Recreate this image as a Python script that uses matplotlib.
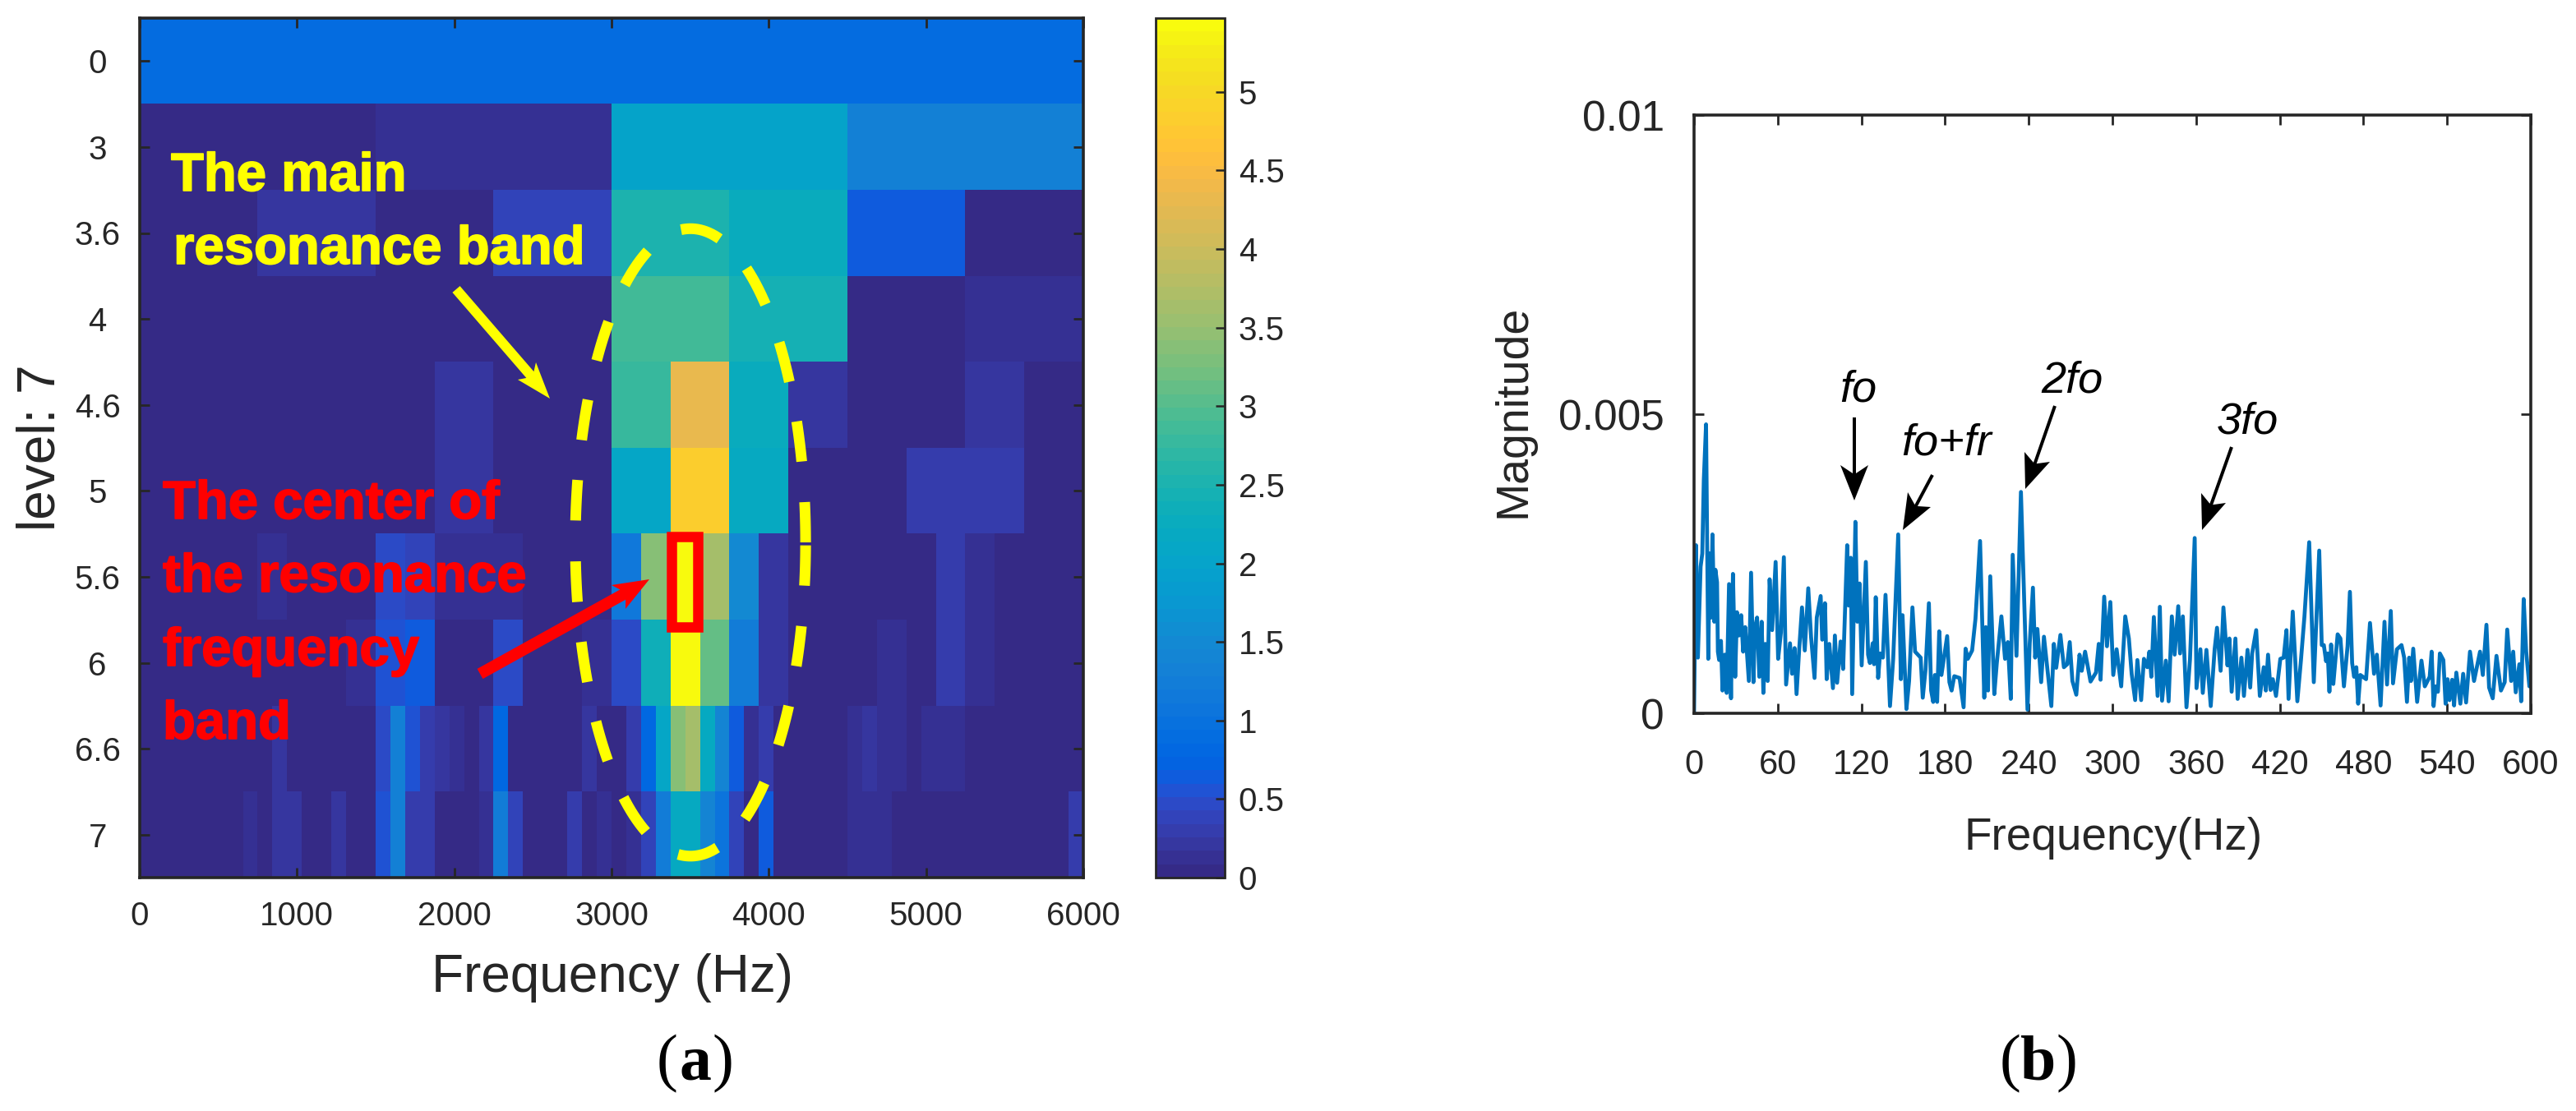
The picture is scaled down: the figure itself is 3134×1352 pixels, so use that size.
import numpy as np
import matplotlib
matplotlib.use("Agg")
import matplotlib.pyplot as plt
import matplotlib.patheffects as pe
from matplotlib.colors import ListedColormap
from matplotlib.patches import Rectangle, Polygon

W, H = 3134, 1352
DARK = "#262626"
plt.rcParams["font.family"] = ["Liberation Sans", "DejaVu Sans"]

# kurtogram, panel (a): one list per level, cells spread evenly over 0-6000 Hz
level_labels = ["0", "3", "3.6", "4", "4.6", "5", "5.6", "6", "6.6", "7"]
row_0 = [0.87]
row_3 = [0.05, 0.17, 2.05, 1.35]
row_3_6 = [0.05, 0.2, 0.05, 0.38, 2.5, 2.3, 0.62, 0.02]
row_4 = [0.03, 0.03, 0.03, 0.03, 2.9, 2.45, 0.02, 0.15]
row_4_6 = [0.03, 0.03, 0.03, 0.03, 0.03, 0.18, 0.03, 0.03,
           2.75, 4.35, 2.3, 0.25, 0.03, 0.03, 0.18, 0.02]
row_5 = [0.03, 0.03, 0.03, 0.03, 0.03, 0.18, 0.03, 0.03,
         2.1, 4.85, 2.15, 0.02, 0.02, 0.27, 0.27, 0.02]
row_5_6 = [0.03, 0.03, 0.03, 0.03, 0.12, 0.03, 0.03, 0.03,
           0.45, 0.42, 0.15, 0.15, 0.15, 0.03, 0.03, 0.03,
           1.15, 3.4, 5.4, 3.6, 1.5, 0.25, 0.03, 0.03,
           0.03, 0.03, 0.03, 0.32, 0.17, 0.03, 0.03, 0.03]
row_6 = [0.03, 0.03, 0.03, 0.03, 0.03, 0.03, 0.03, 0.12,
         0.55, 0.65, 0.05, 0.0, 0.5, 0.03, 0.03, 0.1,
         0.45, 2.35, 5.4, 3.1, 1.25, 0.25, 0.03, 0.03,
         0.03, 0.13, 0.02, 0.3, 0.12, 0.03, 0.03, 0.03]
row_6_6 = [0.03, 0.03, 0.03, 0.03, 0.03, 0.03, 0.03, 0.03,
           0.03, 0.25, 0.03, 0.03, 0.03, 0.03, 0.03, 0.03,
           0.5, 1.35, 0.55, 0.28, 0.22, 0.1, 0.03, 0.25,
           0.85, 0.03, 0.03, 0.03, 0.03, 0.03, 0.22, 0.06,
           0.0, 0.3, 0.85, 2.1, 3.4, 3.65, 2.2, 1.4,
           0.65, 0.15, 0.3, 0.02, 0.02, 0.02, 0.02, 0.02,
           0.13, 0.2, 0.13, 0.13, 0.02, 0.1, 0.1, 0.1,
           0.02, 0.02, 0.02, 0.02, 0.02, 0.02, 0.02, 0.02]
row_7 = [0.03, 0.03, 0.03, 0.03, 0.03, 0.03, 0.03, 0.1,
         0.03, 0.25, 0.25, 0.03, 0.03, 0.18, 0.03, 0.03,
         0.55, 1.3, 0.3, 0.28, 0.08, 0.08, 0.04, 0.15,
         1.2, 0.35, 0.03, 0.03, 0.03, 0.33, 0.05, 0.1,
         0.02, 0.12, 0.38, 1.25, 2.15, 2.15, 1.45, 1.05,
         0.35, 0.03, 0.6, 0.02, 0.02, 0.02, 0.02, 0.02,
         0.17, 0.1, 0.1, 0.02, 0.02, 0.08, 0.02, 0.08,
         0.02, 0.02, 0.02, 0.02, 0.02, 0.02, 0.02, 0.3]
kurt_rows = [row_0, row_3, row_3_6, row_4, row_4_6, row_5, row_5_6, row_6, row_6_6, row_7]
kurt_max = 5.47
cbar_ticks = [0, 0.5, 1, 1.5, 2, 2.5, 3, 3.5, 4, 4.5, 5]
cbar_labels = ["0", "0.5", "1", "1.5", "2", "2.5", "3", "3.5", "4", "4.5", "5"]
freq_ticks_a = [0, 1000, 2000, 3000, 4000, 5000, 6000]

spec_freq = [
    0, 1.4, 2.75, 4.7, 5.9, 7, 8.6, 10.2, 11.2, 12.2, 13.2, 14.5, 15.3, 16.5, 17.1, 18, 19.3, 20.4,
    22, 23.4, 25.1, 26.5, 27.9, 29.5, 30.8, 32.2, 33.8, 35.2, 36.7, 39.3, 40.9, 42.6, 43.6, 45.2,
    46.8, 48.5, 49.7, 51.1, 52.8, 54.2, 56, 58.5, 60.3, 62.3, 64.4, 66, 68.8, 70.3, 72.1, 73.5,
    75.4, 77.4, 79.4, 81.9, 83.9, 86.4, 88, 90.8, 91.9, 93.9, 95.1, 97, 99.6, 101, 102.6, 105.1,
    106.9, 109.8, 110.9, 112.4, 113.4, 115.7, 117.1, 118.7, 120.2, 123.2, 124.8, 126.1, 128.1,
    129.1, 130.3, 132, 133.4, 135.4, 137.3, 140.5, 142.8, 146.4, 148.3, 149.5, 152.3, 154.2,
    156.6, 158.5, 162.5, 164, 166, 168.4, 170, 171.5, 172.7, 174.3, 175.8, 177.4, 181.5, 183.1,
    184.7, 186.6, 190.4, 193.3, 194.7, 196.3, 199.4, 201.8, 205.1, 208.1, 209.2, 210.8, 212.4,
    215.3, 217.1, 220.4, 223, 225, 227.1, 228.5, 231.2, 234.4, 237.1, 239.1, 240.7, 243, 244.6,
    246.2, 248.9, 250.9, 256.2, 258, 259.7, 262.7, 265.2, 267.6, 269.4, 271.3, 274.1, 276.4, 278,
    280.4, 284.3, 288.2, 290.2, 291.5, 294.1, 296.1, 298.5, 300.6, 303, 306.3, 309.2, 311.8,
    313.8, 316.3, 317.9, 320.6, 322.6, 325, 326.5, 327.9, 329.7, 332.4, 334, 335.6, 338.3, 340.3,
    342.6, 344.6, 347.2, 348.5, 350.5, 353.1, 355.6, 359, 360.3, 363.1, 364.8, 367.4, 370.5,
    373.3, 375, 377.6, 379.6, 382.5, 383.9, 385.5, 388.2, 389.8, 392.5, 394.3, 396.9, 398.8,
    400.2, 403.1, 405.7, 408.5, 410, 411.6, 413.4, 415, 417.3, 420.4, 422.8, 424.8, 426.3, 429.3,
    432.6, 435.2, 437.7, 441.1, 444.4, 448.3, 450.1, 451.6, 453.2, 454.4, 455.6, 456.8, 458.4,
    461.5, 463.5, 466, 468.6, 470.3, 471.9, 473.3, 474.9, 476.2, 477.8, 481.9, 484.7, 487.6,
    489.6, 492.3, 495.1, 496.9, 499.6, 501.2, 504, 507.3, 509.2, 511.2, 512.8, 514.1, 515.7,
    518.5, 521.6, 524, 527.5, 528.9, 530.3, 531.8, 533.4, 534.8, 537.3, 538.9, 540.3, 541.7,
    543.6, 545, 546.6, 549.5, 551.5, 553.6, 556.4, 559.3, 563.6, 565.6, 568.2, 570.1, 572.7,
    575.4, 578.6, 581.3, 583.1, 585.9, 587.4, 589.2, 591.8, 593.1, 594.9, 596.7, 599, 600,
]
spec_mag = [
    0, 2.81, 0.93, 2.45, 2.67, 3.9, 4.83, 0.91, 2.67, 1.6, 2.99, 1.53, 2.4, 2.19, 1.03, 0.89, 1.21, 0.38,
    0.98, 0.34, 2.16, 0.25, 2.33, 0.61, 1.69, 1.3, 1.64, 1.03, 1.44, 0.54, 2.35, 0.52, 1.41, 1.6,
    0.61, 1.53, 0.34, 1.16, 0.54, 2.24, 1.39, 2.53, 0.91, 1.35, 2.61, 0.48, 1.17, 0.66, 1.09, 0.32,
    1.07, 1.77, 1.05, 2.09, 1.28, 0.59, 1.6, 1.96, 1.23, 1.84, 0.57, 1.16, 0.42, 1.3, 0.51, 1.2,
    0.74, 2.81, 1.8, 2.6, 0.32, 3.2, 1.53, 2.17, 0.8, 2.53, 0.98, 0.84, 1.17,
    0.82, 1.94, 0.59, 1.0, 0.93, 1.98, 0.12, 0.91, 2.99, 0.57, 1.64, 0.07, 0.54,
    1.77, 1.03, 0.93, 0.26, 0.73, 1.84, 0.38, 0.19, 0.64, 0.19, 1.37, 0.64, 1.29, 0.52,
    0.38, 0.62, 0.59, 0.1, 1.08, 0.91, 1.05, 1.58, 2.88, 0.26, 1.44, 0.38, 2.29,
    0.32, 0.84, 1.62, 0.91, 1.19, 0.24, 2.65, 0.96, 3.7, 1.58, 0.06, 1.16, 2.1, 0.93,
    1.41, 0.52, 1.28, 0.12, 1.16, 0.76, 1.31, 0.77, 0.82, 1.19, 0.54, 0.31, 0.98, 0.71,
    1.03, 0.53, 0.68, 1.16, 0.56, 1.95, 1.12, 1.86, 0.64, 1.07, 0.45, 1.62, 1.25,
    0.66, 0.22, 0.89, 0.22, 0.91, 0.77, 1.03, 0.61, 1.61, 0.29, 1.78, 0.21, 0.88, 0.2,
    1.62, 0.98, 1.79, 1.0, 1.62, 0.1, 0.89, 2.93, 0.42, 1.07, 0.34, 1.06, 0.12,
    1.07, 1.43, 0.71, 1.77, 0.8, 1.25, 0.36, 1.25, 0.24, 0.93, 0.29, 1.06, 0.43,
    1.0, 1.39, 0.29, 0.77, 0.38, 0.98, 0.39, 0.57, 0.29, 0.91, 0.93, 1.39, 0.24, 1.7,
    0.2, 0.89, 1.62, 2.86, 0.52, 2.72, 1.14, 1.14, 0.87, 1.0, 0.36, 1.15, 0.49,
    1.32, 1.25, 0.45, 1.12, 2.03, 0.84, 0.61, 0.77, 0.16, 0.64, 0.57, 1.51, 0.66,
    0.98, 0.13, 1.53, 0.48, 1.71, 0.5, 1.07, 1.14, 0.93, 0.19, 0.93, 0.54, 1.08,
    0.19, 0.88, 0.45, 0.61, 1.03, 0.12, 0.45, 0.36, 1.0, 0.89, 0.16, 0.57, 0.22,
    0.56, 0.13, 0.68, 0.16, 0.66, 0.18, 1.03, 0.54, 1.03, 0.64, 1.48, 0.43, 0.25,
    0.96, 0.38, 0.52, 1.4, 0.54, 1.03, 0.35, 0.82, 0.2, 1.91, 1.03, 0.45, 0.77,
]
freq_ticks_b = [0, 60, 120, 180, 240, 300, 360, 420, 480, 540, 600]
mag_ticks = [0, 0.005, 0.01]
mag_labels = ["0", "0.005", "0.01"]

# MATLAB parula
parula = ListedColormap([
    (.2081, .1663, .5292), (.2116, .1898, .5777), (.2123, .2138, .6270), (.2081, .2386, .6771),
    (.1959, .2645, .7279), (.1707, .2919, .7792), (.1253, .3242, .8303), (.0591, .3598, .8683),
    (.0117, .3875, .8820), (.0060, .4086, .8828), (.0165, .4266, .8786), (.0329, .4430, .8720),
    (.0498, .4586, .8641), (.0629, .4737, .8554), (.0723, .4887, .8467), (.0779, .5040, .8384),
    (.0793, .5200, .8312), (.0749, .5375, .8263), (.0641, .5570, .8240), (.0488, .5772, .8228),
    (.0343, .5966, .8199), (.0265, .6137, .8135), (.0239, .6287, .8038), (.0231, .6418, .7913),
    (.0228, .6535, .7768), (.0267, .6642, .7607), (.0384, .6743, .7436), (.0590, .6838, .7254),
    (.0843, .6928, .7062), (.1133, .7015, .6859), (.1453, .7098, .6646), (.1801, .7177, .6424),
    (.2178, .7250, .6193), (.2586, .7317, .5954), (.3022, .7376, .5712), (.3482, .7424, .5473),
    (.3953, .7459, .5244), (.4420, .7481, .5033), (.4871, .7491, .4840), (.5300, .7491, .4661),
    (.5709, .7485, .4494), (.6099, .7473, .4337), (.6473, .7456, .4188), (.6834, .7435, .4044),
    (.7184, .7411, .3905), (.7525, .7384, .3768), (.7858, .7356, .3633), (.8185, .7327, .3498),
    (.8507, .7299, .3360), (.8824, .7274, .3217), (.9139, .7258, .3063), (.9450, .7261, .2886),
    (.9739, .7314, .2666), (.9938, .7455, .2403), (.9990, .7653, .2164), (.9955, .7861, .1967),
    (.9880, .8066, .1794), (.9789, .8271, .1633), (.9697, .8481, .1475), (.9626, .8705, .1309),
    (.9589, .8949, .1132), (.9598, .9218, .0948), (.9661, .9514, .0755), (.9763, .9831, .0538),
])


def px_axes(fig, left, top, right, bottom):
    return fig.add_axes([left / W, 1 - bottom / H, (right - left) / W, (bottom - top) / H])


def px_text(fig, x, y, s, **kw):
    # y is the baseline in picture pixels
    return fig.text(x / W, 1 - y / H, s, va="baseline", **kw)


def arrow(fig, start, tip, shaft, barb_a, barb_b, notch, color):
    # barb_a / barb_b are the back corners of the head, notch is how far the back is cut in
    start, tip, barb_a, barb_b = map(np.array, (start, tip, barb_a, barb_b))
    d = (tip - start) / np.linalg.norm(tip - start)
    n = np.array([-d[1], d[0]])
    mid = (barb_a + barb_b) / 2 + d * notch
    pts = [start + n * shaft / 2, mid + n * shaft / 2, barb_a if np.dot(barb_a - tip, n) > 0 else barb_b, tip,
           barb_b if np.dot(barb_a - tip, n) > 0 else barb_a, mid - n * shaft / 2, start - n * shaft / 2]
    pts = [(p[0] / W, 1 - p[1] / H) for p in pts]
    fig.add_artist(Polygon(pts, closed=True, transform=fig.transFigure, fc=color, ec="none", zorder=5))


def dashed_ellipse(ax, cx, cy, rx, ry, n_dash, dash_px, period_px, phase_px, px_per_x, px_per_y, **kw):
    # walk the ellipse clockwise on screen from its right-most point, cut it into dashes
    t = np.linspace(0, 2 * np.pi, 4000)
    x = cx + rx * np.cos(t)
    y = cy + ry * np.sin(t)
    seg = np.hypot(np.diff(x) * px_per_x, np.diff(y) * px_per_y)
    s = np.concatenate([[0], np.cumsum(seg)])
    for i in range(n_dash):
        start = phase_px + i * period_px
        on = (s >= start) & (s <= start + dash_px)
        ax.plot(x[on], y[on], solid_capstyle="butt", **kw)


def style_box(ax):
    for s in ax.spines.values():
        s.set_linewidth(2.6)
        s.set_color(DARK)
    ax.tick_params(which="both", direction="in", top=True, right=True, length=8.5, width=2, color=DARK, labelcolor=DARK)


fig = plt.figure(figsize=(W / 100, H / 100), dpi=100)

# panel (a)
ax = px_axes(fig, 170, 22, 1318, 1068)
grid = np.array([np.repeat(r, 64 // len(r)) for r in kurt_rows])
im = ax.imshow(grid, cmap=parula, vmin=0, vmax=kurt_max, aspect="auto", interpolation="nearest",
               extent=[0, 6000, len(kurt_rows) - 0.5, -0.5])
style_box(ax)
ax.set_xticks(freq_ticks_a)
ax.set_yticks(range(len(level_labels)))
ax.set_yticklabels(level_labels)
ax.tick_params(axis="x", labelsize=29, pad=20)
ax.tick_params(axis="y", labelsize=29, pad=37)
for lab in ax.get_yticklabels():
    lab.set_horizontalalignment("center")

dashed_ellipse(ax, 3502, 5.6, 732, 3.65, 18, 50, 98.6, 3, 1148 / 6000, 104.6,
               color="#ffff00", lw=9.4, zorder=3)
ax.set_xlim(0, 6000)
ax.set_ylim(len(kurt_rows) - 0.5, -0.5)
ax.add_patch(Rectangle((3381, 5.53), 167, 1.05, fill=False, ec="#ff0000", lw=9, zorder=4))

px_text(fig, 745, 1207, "Frequency (Hz)", ha="center", fontsize=46, color=DARK)
fig.text(50 / W, 1 - 545 / H, "level: 7", rotation=90, ha="center", va="center", fontsize=46, color=DARK)

for x, y, s in [(208, 232, "The main"), (211, 321, "resonance band")]:
    t = px_text(fig, x, y, s, fontsize=47, fontweight="bold", color="#ffff00", zorder=6)
    t.set_path_effects([pe.withStroke(linewidth=1.2, foreground="#ffff00")])
for x, y, s in [(198, 631, "The center of"), (198, 720, "the resonance"), (198, 810, "frequency"), (198, 899, "band")]:
    t = px_text(fig, x, y, s, fontsize=47, fontweight="bold", color="#ff0000", zorder=6)
    t.set_path_effects([pe.withStroke(linewidth=1.2, foreground="#ff0000")])

arrow(fig, (555, 352), (669, 485), 12, (652, 441), (630, 462), 6, "#ffff00")
arrow(fig, (584, 820), (790, 705), 14, (744, 712), (761, 741), 6, "#ff0000")

# colorbar
cax = px_axes(fig, 1406, 22, 1490, 1068)
cb = fig.colorbar(im, cax=cax, ticks=cbar_ticks)
cb.ax.set_yticklabels(cbar_labels)
cb.outline.set_linewidth(2)
cb.outline.set_edgecolor(DARK)
cb.ax.tick_params(direction="in", length=8, width=1.8, color=DARK, labelcolor=DARK, labelsize=29, pad=12)

# panel (b)
ax2 = px_axes(fig, 2061, 140, 3079, 868)
ax2.plot(spec_freq, np.array(spec_mag) * 1e-3, color="#0072bd", lw=3.4, solid_joinstyle="round")
ax2.set_xlim(0, 600)
ax2.set_ylim(0, 0.01)
style_box(ax2)
ax2.set_xticks(freq_ticks_b)
ax2.set_yticks(mag_ticks)
ax2.set_yticklabels(mag_labels)
ax2.tick_params(axis="x", labelsize=30, pad=31)
ax2.tick_params(axis="y", labelsize=37, pad=26)

px_text(fig, 2571, 1034, "Frequency(Hz)", ha="center", fontsize=39.5, color=DARK)
fig.text(1842 / W, 1 - 500 / H, "Magnitude", rotation=90, ha="center", va="center", fontsize=40, color=DARK)

for x, y, s in [(2238, 488, "fo"), (2313, 553, "fo+fr"), (2483, 478, "2fo"), (2697, 528, "3fo")]:
    px_text(fig, x, y, s, fontsize=39, fontstyle="italic", color="black")
arrow(fig, (2256, 508), (2256, 609), 4, (2239, 566), (2273, 566), 10, "black")
arrow(fig, (2351, 578), (2315, 645), 4, (2321, 599), (2349, 617), 8, "black")
arrow(fig, (2500, 494), (2464, 595), 4, (2463, 550), (2494, 562), 8, "black")
arrow(fig, (2715, 544), (2679, 645), 4, (2678, 600), (2708, 612), 8, "black")

# sub-captions
for cx, letter in [(846, "a"), (2480, "b")]:
    px_text(fig, cx - 21, 1313, "(", ha="right", fontsize=56, family="Liberation Serif", color="black")
    px_text(fig, cx, 1313, letter, ha="center", fontsize=56, family="Liberation Serif", fontweight="bold", color="black")
    px_text(fig, cx + 21, 1313, ")", ha="left", fontsize=56, family="Liberation Serif", color="black")

assert len(spec_freq) == len(spec_mag), (len(spec_freq), len(spec_mag))
fig.savefig("out.png", dpi=100)
